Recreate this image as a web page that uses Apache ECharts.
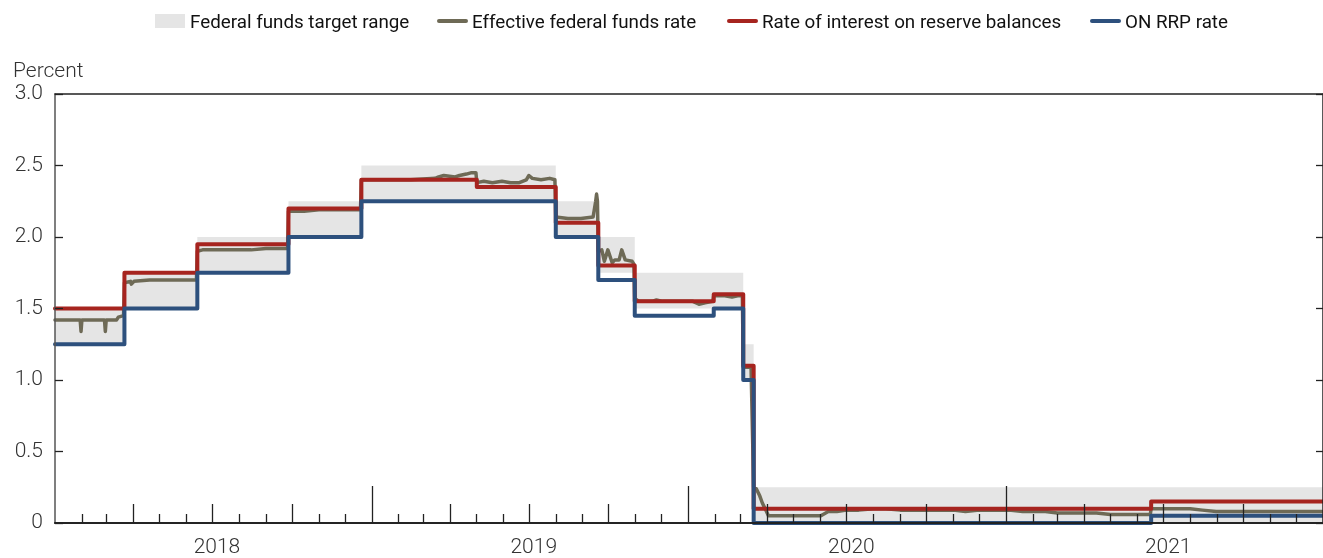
<!DOCTYPE html>
<html>
<head>
<meta charset="utf-8">
<script src="https://cdn.jsdelivr.net/npm/echarts@6/dist/echarts.min.js"></script>
<style>html,body{margin:0;padding:0;background:#fff;}#c{width:1323px;height:558px;}</style>
</head>
<body>
<div id="c"></div>
<script>
// ---- data ----
const years = [2018, 2019, 2020, 2021];
const seriesNames = ['Federal funds target range', 'Effective federal funds rate', 'Rate of interest on reserve balances', 'ON RRP rate'];

// Federal funds target range (change dates, lower and upper bounds)
const bandDates = ['2018-01-01','2018-03-22','2018-06-14','2018-09-27','2018-12-20','2019-08-01','2019-09-19','2019-10-31','2020-03-04','2020-03-16'];
const bandLow   = [1.25, 1.50, 1.75, 2.00, 2.25, 2.00, 1.75, 1.50, 1.00, 0.00];
const bandHigh  = [1.50, 1.75, 2.00, 2.25, 2.50, 2.25, 2.00, 1.75, 1.25, 0.25];

// Rate of interest on reserve balances
const iorbDates = ['2018-01-01','2018-03-22','2018-06-14','2018-09-27','2018-12-20','2019-05-02','2019-08-01','2019-09-19','2019-10-31','2020-01-30','2020-03-04','2020-03-16','2021-06-17','2022-01-01'];
const iorbValues = [1.50, 1.75, 1.95, 2.20, 2.40, 2.35, 2.10, 1.80, 1.55, 1.60, 1.10, 0.10, 0.15, 0.15];

// ON RRP rate
const rrpDates = ['2018-01-01','2018-03-22','2018-06-14','2018-09-27','2018-12-20','2019-08-01','2019-09-19','2019-10-31','2020-01-30','2020-03-04','2020-03-16','2021-06-17','2022-01-01'];
const rrpValues = [1.25, 1.50, 1.75, 2.00, 2.25, 2.00, 1.70, 1.45, 1.50, 1.00, 0.00, 0.05, 0.05];

// Effective federal funds rate
const effrDates = [
 '2018-01-01','2018-01-30','2018-01-31','2018-02-01','2018-02-27','2018-02-28','2018-03-01','2018-03-13','2018-03-15','2018-03-21',
 '2018-03-22','2018-03-29','2018-03-30','2018-04-02','2018-04-20','2018-05-15','2018-06-13',
 '2018-06-14','2018-06-20','2018-07-15','2018-08-15','2018-09-01','2018-09-26',
 '2018-09-27','2018-10-15','2018-11-01','2018-11-20','2018-12-05','2018-12-19',
 '2018-12-20','2019-01-15','2019-02-15','2019-03-15','2019-03-19','2019-03-25','2019-04-07','2019-04-12','2019-04-20','2019-04-26','2019-05-01',
 '2019-05-02','2019-05-10','2019-05-20','2019-05-31','2019-06-10','2019-06-20','2019-06-28','2019-07-01','2019-07-05','2019-07-15','2019-07-25','2019-07-31',
 '2019-08-01','2019-08-15','2019-08-30','2019-09-13','2019-09-16','2019-09-17','2019-09-18',
 '2019-09-19','2019-09-23','2019-09-26','2019-09-30','2019-10-05','2019-10-08','2019-10-13','2019-10-16','2019-10-20','2019-10-28','2019-10-30',
 '2019-10-31','2019-11-05','2019-11-20','2019-11-25','2019-12-02','2019-12-16','2019-12-31','2020-01-06','2020-01-13','2020-01-20','2020-01-29',
 '2020-01-30','2020-02-10','2020-02-20','2020-02-28','2020-03-03',
 '2020-03-04','2020-03-13',
 '2020-03-16','2020-03-19','2020-03-23','2020-03-26','2020-03-30','2020-04-02','2020-04-15','2020-05-01','2020-05-15','2020-06-01','2020-06-04','2020-06-10','2020-06-20',
 '2020-07-01','2020-07-15','2020-08-01','2020-08-15','2020-09-01','2020-09-15','2020-10-01','2020-10-15','2020-11-01','2020-11-15','2020-12-01','2020-12-15',
 '2021-01-04','2021-01-20','2021-02-01','2021-02-15','2021-03-01','2021-03-15','2021-04-01','2021-04-15','2021-05-01','2021-05-15','2021-06-01','2021-06-03','2021-06-10','2021-06-16',
 '2021-06-17','2021-07-01','2021-07-15','2021-08-01','2021-08-15','2021-08-31','2021-09-15','2021-10-01','2021-10-15','2021-11-01','2021-11-15','2021-12-01','2021-12-15','2021-12-31'
];
const effrValues = [
 1.42,1.42,1.34,1.42,1.42,1.34,1.42,1.42,1.44,1.45,
 1.68,1.69,1.67,1.69,1.70,1.70,1.70,
 1.90,1.91,1.91,1.91,1.92,1.92,
 2.18,2.18,2.19,2.19,2.19,2.19,
 2.40,2.40,2.40,2.41,2.42,2.43,2.42,2.43,2.44,2.45,2.45,
 2.38,2.39,2.38,2.39,2.38,2.38,2.40,2.43,2.41,2.40,2.41,2.40,
 2.14,2.13,2.13,2.14,2.25,2.30,2.25,
 1.90,1.91,1.83,1.91,1.82,1.84,1.84,1.91,1.84,1.83,1.81,
 1.57,1.55,1.55,1.56,1.55,1.55,1.55,1.55,1.53,1.54,1.55,
 1.59,1.59,1.58,1.59,1.59,
 1.09,1.09,
 0.25,0.24,0.19,0.14,0.09,0.05,0.05,0.05,0.05,0.05,0.06,0.08,0.08,
 0.09,0.09,0.10,0.10,0.09,0.09,0.09,0.09,0.09,0.08,0.09,0.09,
 0.09,0.08,0.08,0.08,0.07,0.07,0.07,0.07,0.06,0.06,0.06,0.05,0.06,0.06,
 0.10,0.10,0.10,0.10,0.09,0.08,0.08,0.08,0.08,0.08,0.08,0.08,0.08,0.08
];

// ---- helpers ----
const t = s => { const p = s.split('-').map(Number); return new Date(p[0], p[1]-1, p[2]).getTime(); };
const X_MIN = new Date(2018,0,1).getTime();
const X_MAX = new Date(2022,0,1).getTime();

const monthTicks = [], quarterTicks = [], yearTicks = [], yearLabelPos = [];
years.forEach(y => {
  for (let m = 0; m < 12; m++) {
    const v = new Date(y, m, 1).getTime();
    if (m === 0) { if (y !== years[0]) yearTicks.push(v); }
    else if (m % 3 === 0) quarterTicks.push(v);
    else monthTicks.push(v);
  }
  yearLabelPos.push(new Date(y, 6, 2).getTime());
});

const bandData = bandDates.map((d, i) => [t(d), i + 1 < bandDates.length ? t(bandDates[i+1]) : X_MAX, bandLow[i], bandHigh[i]]);
const zip = (ds, vs) => ds.map((d, i) => [t(d), vs[i]]);

const FONT = 'Roboto';
const AXC = '#222';
const C_BAND = '#e5e5e5', C_EFFR = '#6e6a56', C_IORB = '#a6241f', C_RRP = '#2d507d';

function xAx(ticks, len, extra) {
  return Object.assign({
    type: 'value', min: X_MIN, max: X_MAX, position: 'bottom', z: 10,
    axisLine: { show: true, onZero: false, lineStyle: { color: AXC, width: 1.5 } },
    axisTick: { show: true, inside: true, length: len, customValues: ticks, lineStyle: { color: AXC, width: 1.3 } },
    axisLabel: { show: false },
    splitLine: { show: false }
  }, extra || {});
}

// legend drawn as graphic elements
const LT = { fontFamily: FONT, fontSize: 18.8, fill: '#111', verticalAlign: 'middle', align: 'left' };
const LY = 21, TY = 23;
const legendItems = [
  { type: 'rect', shape: { x: 155, y: LY - 7, width: 30, height: 14 }, style: { fill: C_BAND } },
  { type: 'text', x: 190, y: TY, style: Object.assign({ text: seriesNames[0] }, LT) },
  { type: 'line', shape: { x1: 439, y1: LY, x2: 466, y2: LY }, style: { stroke: C_EFFR, lineWidth: 4, lineCap: 'round' } },
  { type: 'text', x: 472, y: TY, style: Object.assign({ text: seriesNames[1] }, LT) },
  { type: 'line', shape: { x1: 729, y1: LY, x2: 756, y2: LY }, style: { stroke: C_IORB, lineWidth: 4, lineCap: 'round' } },
  { type: 'text', x: 762, y: TY, style: Object.assign({ text: seriesNames[2] }, LT) },
  { type: 'line', shape: { x1: 1092, y1: LY, x2: 1119, y2: LY }, style: { stroke: C_RRP, lineWidth: 4, lineCap: 'round' } },
  { type: 'text', x: 1125, y: TY, style: Object.assign({ text: seriesNames[3] }, LT) }
];

const chart = echarts.init(document.getElementById('c'), null, { renderer: 'canvas' });
chart.setOption({
  animation: false,
  backgroundColor: '#fff',
  textStyle: { fontFamily: FONT },
  title: { text: 'Percent', left: 8, top: 56, textStyle: { fontFamily: FONT, fontSize: 21, fontWeight: 300, color: '#333' } },
  graphic: legendItems,
  grid: { left: 55, top: 94, width: 1269, height: 431 },
  xAxis: [
    xAx(monthTicks, 9, {
      axisLabel: { show: true, customValues: yearLabelPos, formatter: v => String(new Date(v).getFullYear()),
                   margin: 14, fontFamily: FONT, fontSize: 21, fontWeight: 300, color: '#333', padding: [0,0,0,8] }
    }),
    xAx(quarterTicks, 19),
    xAx(yearTicks, 37),
    { type: 'value', min: X_MIN, max: X_MAX, position: 'top', z: 10,
      axisLine: { show: true, onZero: false, lineStyle: { color: AXC, width: 1.5 } },
      axisTick: { show: false }, axisLabel: { show: false }, splitLine: { show: false } }
  ],
  yAxis: [
    { type: 'value', min: 0, max: 3, interval: 0.5, position: 'left', z: 10,
      axisLine: { show: true, onZero: false, lineStyle: { color: '#555', width: 1.5 } },
      axisTick: { show: true, inside: true, length: 8, lineStyle: { color: AXC, width: 1.3 } },
      axisLabel: { margin: 12, fontFamily: FONT, fontSize: 21, fontWeight: 300, color: '#333',
                   formatter: v => v === 0 ? '0' : v.toFixed(1) },
      splitLine: { show: false } },
    { type: 'value', min: 0, max: 3, interval: 0.5, position: 'right', z: 10,
      axisLine: { show: true, onZero: false, lineStyle: { color: AXC, width: 1.5 } },
      axisTick: { show: true, inside: true, length: 7, lineStyle: { color: AXC, width: 1.3 } },
      axisLabel: { show: false }, splitLine: { show: false } }
  ],
  series: [
    { name: seriesNames[0], type: 'custom', xAxisIndex: 0, yAxisIndex: 0,
      itemStyle: { color: C_BAND },
      dimensions: ['start', 'end', 'low', 'high'],
      encode: { x: ['start', 'end'], y: ['low', 'high'] },
      renderItem: (params, api) => {
        const p1 = api.coord([api.value(0), api.value(3)]);
        const p2 = api.coord([api.value(1), api.value(2)]);
        return { type: 'rect', shape: { x: p1[0], y: p1[1], width: p2[0] - p1[0], height: p2[1] - p1[1] },
                 style: { fill: C_BAND } };
      },
      data: bandData },
    { name: seriesNames[1], type: 'line', symbol: 'none', showSymbol: false,
      itemStyle: { color: C_EFFR },
      lineStyle: { color: C_EFFR, width: 3.5, join: 'round', cap: 'round' },
      data: zip(effrDates, effrValues) },
    { name: seriesNames[2], type: 'line', step: 'end', symbol: 'none', showSymbol: false,
      itemStyle: { color: C_IORB },
      lineStyle: { color: C_IORB, width: 4, join: 'round', cap: 'round' },
      data: zip(iorbDates, iorbValues) },
    { name: seriesNames[3], type: 'line', step: 'end', symbol: 'none', showSymbol: false,
      itemStyle: { color: C_RRP },
      lineStyle: { color: C_RRP, width: 4, join: 'round', cap: 'round' },
      data: zip(rrpDates, rrpValues) }
  ]
});
</script>
</body>
</html>
